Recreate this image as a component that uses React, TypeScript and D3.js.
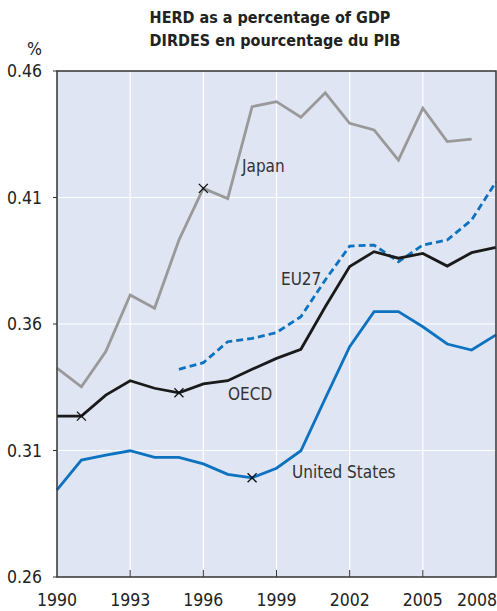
import React from "react";
import * as d3 from "d3";

const years = d3.range(1990, 2009);
const japan: (number | null)[] = [0.3426, 0.3352, 0.3491, 0.3715, 0.3662, 0.3932, 0.4136, 0.4096, 0.4459, 0.4479, 0.4417, 0.4514, 0.4393, 0.4367, 0.4248, 0.4453, 0.4321, 0.4331, null];
const eu27: (number | null)[] = [null, null, null, null, null, 0.3421, 0.3447, 0.3530, 0.3543, 0.3566, 0.3629, 0.3774, 0.3908, 0.3912, 0.3846, 0.3912, 0.3932, 0.4011, 0.4162];
const oecd: (number | null)[] = [0.3236, 0.3236, 0.3319, 0.3376, 0.3346, 0.3328, 0.3363, 0.3376, 0.3421, 0.3464, 0.3500, 0.3668, 0.3827, 0.3886, 0.3860, 0.3879, 0.3829, 0.3882, 0.3903];
const us: (number | null)[] = [0.2944, 0.3062, 0.3082, 0.3099, 0.3073, 0.3073, 0.3047, 0.3006, 0.2992, 0.3030, 0.3099, 0.3306, 0.3510, 0.3649, 0.3649, 0.3589, 0.3521, 0.3497, 0.3557];
const yTicks = [0.26, 0.31, 0.36, 0.41, 0.46];
const xTicks = [1990, 1993, 1996, 1999, 2002, 2005, 2008];
const breaks = [
  { series: "japan", year: 1996 },
  { series: "oecd", year: 1991 },
  { series: "oecd", year: 1995 },
  { series: "us", year: 1998 },
];

const W = 497, H = 611;
const L = 57, R = 496, T = 71, B = 577;
const FONT = "'Liberation Sans Narrow', 'DejaVu Sans Condensed', 'Arial Narrow', sans-serif";

export default function App() {
  const x = d3.scaleLinear().domain([1990, 2008]).range([L, R]);
  const y = d3.scaleLinear().domain([0.26, 0.46]).range([B, T]);
  const mk = (vals: (number | null)[]) =>
    d3.line<number | null>()
      .defined((d) => d != null)
      .x((_, i) => x(years[i]))
      .y((d) => y(d as number))(vals) || "";
  const seriesMap: Record<string, (number | null)[]> = { japan, eu27, oecd, us };
  return (
    <svg width={W} height={H} style={{ position: "absolute", left: 0, top: 0 }} fontFamily={FONT}>
      <rect x={L} y={T} width={R - L} height={B - T} fill="#dfe5f3" />
      {yTicks.slice(1, -1).map((t) => (
        <line key={"gy" + t} x1={L} x2={R} y1={y(t)} y2={y(t)} stroke="#fff" strokeWidth={1.2} />
      ))}
      {xTicks.slice(1, -1).map((t) => (
        <line key={"gx" + t} x1={x(t)} x2={x(t)} y1={T} y2={B} stroke="#fff" strokeWidth={1.2} />
      ))}
      {xTicks.slice(1, -1).map((t) => (
        <line key={"tx" + t} x1={x(t)} x2={x(t)} y1={B - 7} y2={B} stroke="#333" strokeWidth={1} />
      ))}
      {yTicks.map((t) => (
        <line key={"ty" + t} x1={L - 4} x2={L} y1={y(t)} y2={y(t)} stroke="#333" strokeWidth={1} />
      ))}
      <path d={mk(japan)} fill="none" stroke="#999" strokeWidth={2.8} />
      <path d={mk(eu27)} fill="none" stroke="#0d72bf" strokeWidth={2.8} strokeDasharray="7 4" />
      <path d={mk(oecd)} fill="none" stroke="#1a1a1a" strokeWidth={2.8} />
      <path d={mk(us)} fill="none" stroke="#0d72bf" strokeWidth={2.8} />
      {breaks.map((b, i) => {
        const v = seriesMap[b.series][b.year - 1990] as number;
        const cx = x(b.year), cy = y(v), s = 4.5;
        return (
          <g key={i} stroke="#111" strokeWidth={1.3}>
            <line x1={cx - s} y1={cy - s} x2={cx + s} y2={cy + s} />
            <line x1={cx - s} y1={cy + s} x2={cx + s} y2={cy - s} />
          </g>
        );
      })}
      <rect x={L} y={T} width={R - L} height={B - T} fill="none" stroke="#333" strokeWidth={1.5} />
      <g fill="#333" fontSize={17}>
        <text x={242} y={172}>Japan</text>
        <text x={281} y={285}>EU27</text>
        <text x={228} y={400}>OECD</text>
        <text x={292} y={478}>United States</text>
      </g>
      <g fill="#222" fontSize={17.5} textAnchor="end">
        {yTicks.map((t) => (
          <text key={"ly" + t} x={42} y={y(t) + 6}>{t.toFixed(2)}</text>
        ))}
        <text x={42} y={55}>%</text>
      </g>
      <g fill="#222" fontSize={17.5} textAnchor="middle">
        {xTicks.map((t) => (
          <text key={"lx" + t} x={t === 2008 ? 477 : x(t)} y={606}>{t}</text>
        ))}
      </g>
      <g fill="#222" fontSize={16} fontWeight="bold" textAnchor="middle">
        <text x={270} y={23}>HERD as a percentage of GDP</text>
        <text x={275} y={46}>DIRDES en pourcentage du PIB</text>
      </g>
    </svg>
  );
}
